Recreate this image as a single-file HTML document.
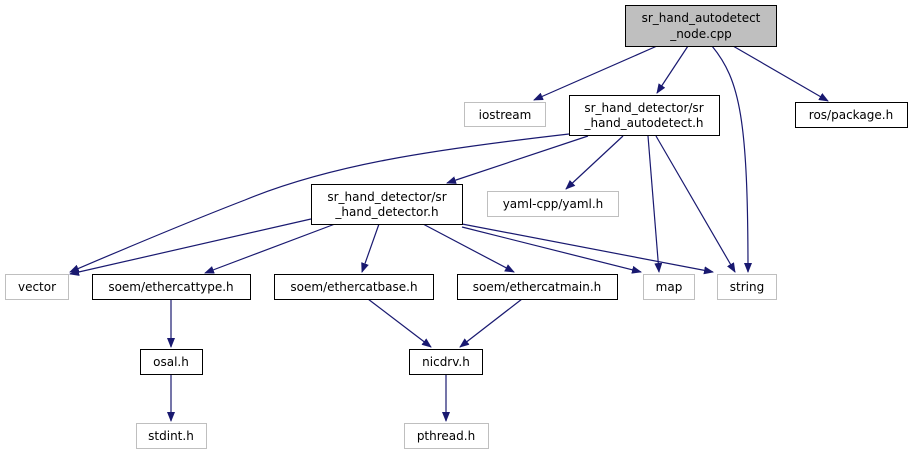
<!DOCTYPE html>
<html><head><meta charset="utf-8"><style>
html,body{margin:0;padding:0;background:#fff;}
svg{display:block;}
text{font-family:"DejaVu Sans","Liberation Sans",sans-serif;font-size:12px;fill:#000;}
</style></head><body>
<svg width="913" height="455" viewBox="0 0 913 455" xmlns="http://www.w3.org/2000/svg">
<defs>
<marker id="a" markerWidth="10" markerHeight="8" refX="9" refY="4" orient="auto" markerUnits="userSpaceOnUse">
<path d="M0,0 L10,4 L0,8 z" fill="#191970"/>
</marker>
</defs>
<g fill="none" stroke="#191970" stroke-width="1.2" marker-end="url(#a)">
<path d="M657,46 L534,100"/>
<path d="M688,46 L657,93"/>
<path d="M712,46 C740,80 748,120 748,272"/>
<path d="M733,46 L828,101"/>
<path d="M588,136 L447,183"/>
<path d="M569,134 C430,150 330,165 245,200 C180,225 110,255 70,272"/>
<path d="M623,136 L566,189"/>
<path d="M648,136 L659,272"/>
<path d="M656,136 L735,272"/>
<path d="M311,219 L70,274"/>
<path d="M335,224 L205,273"/>
<path d="M379,224 L362,272"/>
<path d="M423,224 L514,272"/>
<path d="M462,227 L641,272"/>
<path d="M462,224 L713,272"/>
<path d="M171,299 L171,347"/>
<path d="M368,299 L431,347"/>
<path d="M522,299 L460,347"/>
<path d="M171,374 L171,421"/>
<path d="M446,374 L446,421"/>
</g>
<rect x="625.5" y="5.5" width="151" height="41" fill="#bfbfbf" stroke="#000"/>
<text x="701" y="22" text-anchor="middle">sr_hand_autodetect</text>
<text x="701" y="38" text-anchor="middle">_node.cpp</text>
<rect x="464.5" y="102.5" width="81" height="24" fill="#fff" stroke="#bfbfbf"/>
<text x="505" y="119" text-anchor="middle">iostream</text>
<rect x="569.5" y="95.5" width="150" height="40" fill="#fff" stroke="#000"/>
<text x="644" y="112" text-anchor="middle">sr_hand_detector/sr</text>
<text x="644" y="127" text-anchor="middle">_hand_autodetect.h</text>
<rect x="795.5" y="102.5" width="112" height="25" fill="#fff" stroke="#000"/>
<text x="851" y="119" text-anchor="middle">ros/package.h</text>
<rect x="311.5" y="184.5" width="151" height="40" fill="#fff" stroke="#000"/>
<text x="387" y="201" text-anchor="middle">sr_hand_detector/sr</text>
<text x="387" y="216" text-anchor="middle">_hand_detector.h</text>
<rect x="487.5" y="191.5" width="131" height="25" fill="#fff" stroke="#bfbfbf"/>
<text x="553" y="208" text-anchor="middle">yaml-cpp/yaml.h</text>
<rect x="5.5" y="274.5" width="63" height="25" fill="#fff" stroke="#bfbfbf"/>
<text x="37" y="291" text-anchor="middle">vector</text>
<rect x="92.5" y="274.5" width="158" height="25" fill="#fff" stroke="#000"/>
<text x="171" y="291" text-anchor="middle">soem/ethercattype.h</text>
<rect x="274.5" y="274.5" width="159" height="25" fill="#fff" stroke="#000"/>
<text x="354" y="291" text-anchor="middle">soem/ethercatbase.h</text>
<rect x="457.5" y="274.5" width="160" height="25" fill="#fff" stroke="#000"/>
<text x="537" y="291" text-anchor="middle">soem/ethercatmain.h</text>
<rect x="643.5" y="274.5" width="51" height="25" fill="#fff" stroke="#bfbfbf"/>
<text x="669" y="291" text-anchor="middle">map</text>
<rect x="717.5" y="274.5" width="59" height="25" fill="#fff" stroke="#bfbfbf"/>
<text x="747" y="291" text-anchor="middle">string</text>
<rect x="140.5" y="349.5" width="62" height="25" fill="#fff" stroke="#000"/>
<text x="171" y="366" text-anchor="middle">osal.h</text>
<rect x="409.5" y="349.5" width="73" height="25" fill="#fff" stroke="#000"/>
<text x="446" y="366" text-anchor="middle">nicdrv.h</text>
<rect x="136.5" y="423.5" width="70" height="25" fill="#fff" stroke="#bfbfbf"/>
<text x="171" y="440" text-anchor="middle">stdint.h</text>
<rect x="404.5" y="423.5" width="84" height="25" fill="#fff" stroke="#bfbfbf"/>
<text x="446" y="440" text-anchor="middle">pthread.h</text>
</svg>
</body></html>
